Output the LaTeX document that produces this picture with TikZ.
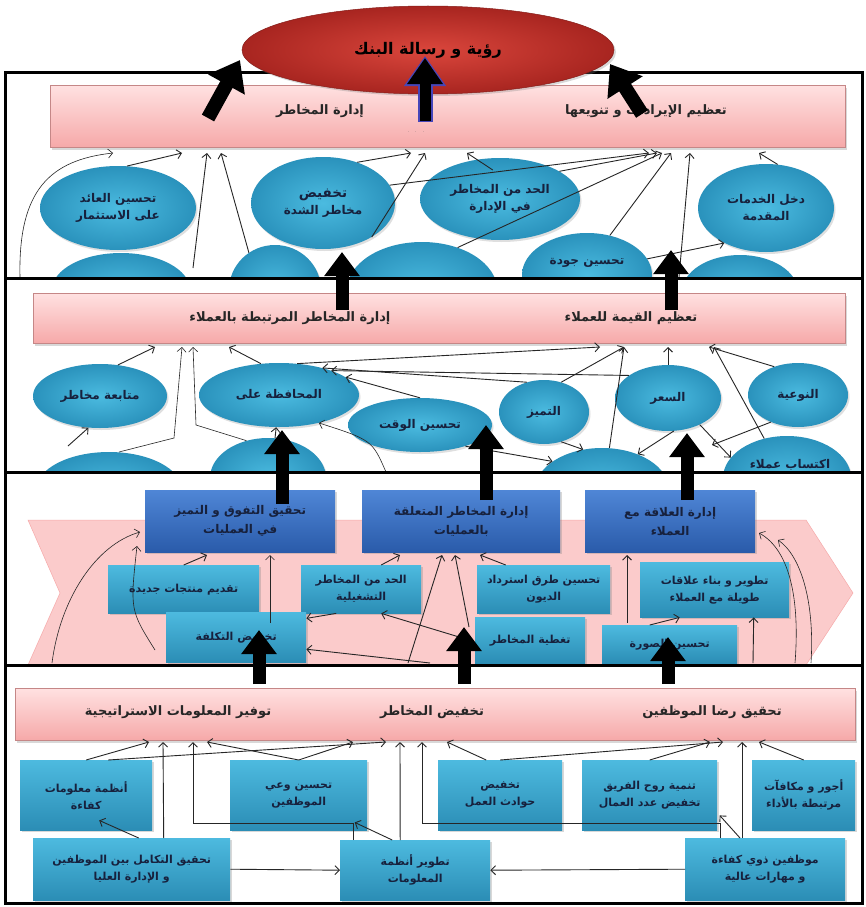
\documentclass[tikz,border=0pt]{standalone}
\usepackage{fontspec}
\newfontfamily\arabicfont[Script=Arabic]{DejaVu Sans}
\TeXXeTstate=1
\usetikzlibrary{arrows.meta,shapes.geometric,shadows}
\definecolor{pinkT}{HTML}{FFE1E1}
\definecolor{pinkB}{HTML}{F6A9A9}
\definecolor{chevpink}{HTML}{FBCBCB}
\definecolor{tealIn}{HTML}{4BBBE0}
\definecolor{tealOut}{HTML}{2A92BC}
\definecolor{boxT}{HTML}{4DBADF}
\definecolor{boxB}{HTML}{2B8DB5}
\definecolor{blueT}{HTML}{4F86D6}
\definecolor{blueB}{HTML}{2A5BAA}
\definecolor{redIn}{HTML}{DA463C}
\definecolor{redOut}{HTML}{A82520}
\definecolor{navy}{HTML}{17213D}
\newcommand\ar[1]{\beginR #1\endR}
\begin{document}
\begin{tikzpicture}[x=1pt,y=-1pt,
 conn/.style={draw=black!85,line width=0.9pt,-{Straight Barb[length=4.5pt,width=9pt]}},
 thinconn/.style={conn,line width=0.6pt},
 bigarrow/.style={line width=13pt,draw=black,-{Triangle[length=24pt,width=34pt]}},
 band/.style={rectangle,inner sep=0pt,anchor=north west,top color=pinkT,bottom color=pinkB,draw=pinkB!80!black,line width=0.3pt,drop shadow={opacity=0.3,shadow xshift=2pt,shadow yshift=-3pt}},
 btxt/.style={font=\arabicfont\bfseries\fontsize{13}{15}\selectfont,text=black!85,inner sep=1pt},
 oval/.style={ellipse,inner sep=0pt,inner color=tealIn,outer color=tealOut,drop shadow={opacity=0.25,shadow xshift=1.5pt,shadow yshift=-2pt},align=center,text=navy,font=\arabicfont\bfseries\fontsize{12}{17}\selectfont},
 otxt/.style={text=navy,font=\arabicfont\bfseries\fontsize{12}{17}\selectfont,inner sep=1pt},
 tbox/.style={rectangle,inner sep=1pt,anchor=north west,top color=boxT,bottom color=boxB,drop shadow={opacity=0.3,shadow xshift=1.5pt,shadow yshift=-2pt},align=center,text=navy,font=\arabicfont\bfseries\fontsize{11}{17}\selectfont},
 bbox/.style={tbox,top color=blueT,bottom color=blueB,font=\arabicfont\bfseries\fontsize{12}{19}\selectfont},
 sz/.style 2 args={minimum width=#1pt,minimum height=#2pt},
 frame/.style={draw=black,line width=3pt}]

\useasboundingbox (0,0) rectangle (866,907);
\fill[white] (0,0) rectangle (866,907);

% ---------- section 3 chevron ----------
\fill[chevpink,draw=pinkB,line width=0.5pt] (28,520) -- (806,520) -- (853,593) -- (806,665) -- (28,665) -- (60,593) -- cycle;

% ---------- section 1 ----------
\node[band,sz={795}{62}] (band1) at (50,85) {};
\node[btxt] (b1t1) at (320,111) {\ar{إدارة المخاطر}};
\node[btxt] (b1t2) at (646,111) {\ar{تعظيم الإيرادات و تنويعها}};
\node[font=\tiny,text=black!70] (b1dots) at (416,132) {. \ . \ .};

\begin{scope}
\clip (5,72) rectangle (862,278);
\node[oval,sz={138}{74}] (p11) at (121,290) {};
\node[oval,sz={92}{90}] (p12) at (275,290) {};
\node[oval,sz={150}{96}] (p13) at (422,290) {};
\node[oval,sz={130}{84}] (e15) at (587,275) {};
\node[oval,sz={116}{74}] (p14) at (740,292) {};
\node[otxt] (e15t) at (587,263) {\ar{تحسين جودة}};
\end{scope}
\node[oval,sz={156}{84}] (e11) at (118,208) {\ar{تحسين العائد}\\\ar{على الاستثمار}};
\node[oval,sz={144}{92}] (e12) at (323,203) {{\fontsize{13.5}{17}\selectfont\ar{تخفيض}}\\\ar{مخاطر الشدة}};
\node[oval,sz={160}{82}] (e13) at (500,199) {\ar{الحد من المخاطر}\\\ar{في الإدارة}};
\node[oval,sz={136}{88}] (e14) at (766,208) {\ar{دخل الخدمات}\\\ar{المقدمة}};

% ---------- section 2 ----------
\node[band,sz={812}{50}] (band2) at (33,293) {};
\node[btxt] (b2t1) at (290,318) {\ar{إدارة المخاطر المرتبطة بالعملاء}};
\node[btxt] (b2t2) at (631,318) {\ar{تعظيم القيمة للعملاء}};
\begin{scope}
\clip (5,278) rectangle (862,472);
\node[oval,sz={146}{76}] (p21) at (109,490) {};
\node[oval,sz={116}{80}] (p22) at (268,478) {};
\node[oval,sz={134}{84}] (p2a) at (602,490) {};
\node[oval,sz={128}{84}] (p27) at (787,478) {};
\node[otxt] (p27t) at (790,465) {\ar{اكتساب عملاء}};
\end{scope}
\node[oval,sz={134}{64}] (e21) at (100,396) {\ar{متابعة مخاطر}};
\node[oval,sz={160}{64}] (e22) at (279,395) {\ar{المحافظة على}};
\node[oval,sz={144}{54}] (e23) at (420,425) {\ar{تحسين الوقت}};
\node[oval,sz={90}{64}] (e24) at (544,412) {\ar{التميز}};
\node[oval,sz={106}{66}] (e25) at (668,398) {\ar{السعر}};
\node[oval,sz={100}{64}] (e26) at (798,395) {\ar{النوعية}};

% ---------- section 3 ----------
\node[bbox,sz={190}{62}] (bb1) at (145,490) {\ar{تحقيق التفوق و التميز}\\\ar{في العمليات}};
\node[bbox,sz={198}{62}] (bb2) at (362,490) {\ar{إدارة المخاطر المتعلقة}\\\ar{بالعمليات}};
\node[bbox,sz={170}{62}] (bb3) at (585,490) {\ar{إدارة العلاقة مع}\\\ar{العملاء}};
\node[tbox,sz={151}{48}] (tb1) at (108,565) {\ar{تقديم منتجات جديدة}};
\node[tbox,sz={120}{48}] (tb2) at (301,565) {\ar{الحد من المخاطر}\\\ar{التشغيلية}};
\node[tbox,sz={133}{48}] (tb3) at (477,565) {\ar{تحسين طرق استرداد}\\\ar{الديون}};
\node[tbox,sz={149}{55}] (tb4) at (640,562) {\ar{تطوير و بناء علاقات}\\\ar{طويلة مع العملاء}};
\node[tbox,sz={140}{50}] (tb5) at (166,612) {\ar{تخفيض التكلفة}};
\node[tbox,sz={110}{46}] (tb6) at (475,617) {\ar{تغطية المخاطر}};
\node[tbox,sz={135}{38}] (tb7) at (602,625) {\ar{تحسين الصورة}};

% ---------- section 4 ----------
\node[band,sz={840}{52}] (band4) at (15,688) {};
\node[btxt] (b4t1) at (178,712) {\ar{توفير المعلومات الاستراتيجية}};
\node[btxt] (b4t2) at (432,712) {\ar{تخفيض المخاطر}};
\node[btxt] (b4t3) at (712,712) {\ar{تحقيق رضا الموظفين}};
\node[tbox,sz={132}{70}] (ra1) at (20,760) {\ar{أنظمة معلومات}\\\ar{كفاءة}};
\node[tbox,sz={137}{70}] (ra2) at (230,760) {\ar{تحسين وعي}\\\ar{الموظفين}};
\node[tbox,sz={124}{70}] (ra3) at (438,760) {\ar{تخفيض}\\\ar{حوادث العمل}};
\node[tbox,sz={135}{70}] (ra4) at (582,760) {\ar{تنمية روح الفريق}\\\ar{تخفيض عدد العمال}};
\node[tbox,sz={103}{70}] (ra5) at (752,760) {\ar{أجور و مكافآت}\\\ar{مرتبطة بالأداء}};
\node[tbox,sz={197}{62}] (rb1) at (33,838) {\ar{تحقيق التكامل بين الموظفين}\\\ar{و الإدارة العليا}};
\node[tbox,sz={150}{60}] (rb2) at (340,840) {\ar{تطوير أنظمة}\\\ar{المعلومات}};
\node[tbox,sz={160}{62}] (rb3) at (685,838) {\ar{موظفين ذوي كفاءة}\\\ar{و مهارات عالية}};

% ---------- coordinates ----------
\coordinate (s1a) at (113,153); \coordinate (s1b) at (182,153); \coordinate (s1c) at (207,153);
\coordinate (s1d) at (221,153); \coordinate (s1e) at (411,153); \coordinate (s1f) at (425,153);
\coordinate (s1g) at (467,153); \coordinate (s1h) at (649,153); \coordinate (s1i) at (657,153);
\coordinate (s1j) at (662,153); \coordinate (s1k) at (671,153); \coordinate (s1l) at (690,153);
\coordinate (s1m) at (759,153);
\coordinate (s1p) at (20,277); \coordinate (s1q) at (193,268); \coordinate (s1r) at (679,277);

\coordinate (s2a) at (155,347); \coordinate (s2b) at (182,347); \coordinate (s2c) at (193,347);
\coordinate (s2d) at (229,347); \coordinate (s2e) at (600,347); \coordinate (s2f) at (624,347);
\coordinate (s2g) at (668,347); \coordinate (s2h) at (709,347); \coordinate (s2i) at (714,347);
\coordinate (s2p) at (119,452); \coordinate (s2q) at (712,445); \coordinate (s2r) at (386,472);
\coordinate (s2s) at (68,446);

\coordinate (s3a) at (140,532); \coordinate (s3b) at (137,546); \coordinate (s3c) at (207,555);
\coordinate (s3d) at (270,555); \coordinate (s3e) at (400,555); \coordinate (s3f) at (442,555);
\coordinate (s3g) at (455,555); \coordinate (s3h) at (480,555); \coordinate (s3i) at (627,555);
\coordinate (s3j) at (759,533); \coordinate (s3k) at (778,540);
\coordinate (s3p) at (52,663); \coordinate (s3q) at (155,650); \coordinate (s3r) at (270,623);
\coordinate (s3s) at (408,663); \coordinate (s3t) at (469,627); \coordinate (s3t2) at (469,640);
\coordinate (s3u) at (430,663); \coordinate (s3v) at (627,623); \coordinate (s3w) at (753,663);
\coordinate (s3x) at (795,663); \coordinate (s3y) at (811,663);

\coordinate (s4a) at (149,742); \coordinate (s4b) at (163,742); \coordinate (s4c) at (193,742);
\coordinate (s4d) at (207,742); \coordinate (s4e) at (353,742); \coordinate (s4f) at (386,742);
\coordinate (s4g) at (400,742); \coordinate (s4h) at (422,742); \coordinate (s4i) at (447,742);
\coordinate (s4j) at (710,742); \coordinate (s4k) at (723,742); \coordinate (s4l) at (742,742);
\coordinate (s4m) at (759,742);

% ---------- connectors section 1 ----------
\draw[thinconn] (s1p) .. controls (18,190) and (50,160) .. (s1a);
\draw[conn] (e11.78) -- (s1b);
\draw[conn] (s1q) -- (s1c);
\draw[conn] (p12.125) -- (s1d);
\draw[conn] (e12.50) -- (s1e);
\draw[conn] (e12.-35) -- (s1f);
\draw[conn] ([yshift=-12pt]e13.100) -- (s1g);
\draw[conn] (e12.15) -- (s1h);
\draw[conn] (e13.25) -- (s1i);
\draw[conn] (p13.50) -- (s1j);
\draw[conn] (e15.60) -- (s1k);
\draw[conn] (s1r) -- (s1l);
\draw[conn] (e15.15) -- (e14.220);
\draw[conn] (e14.75) -- (s1m);

% ---------- connectors section 2 ----------
\draw[conn] (e21.60) -- (s2a);
\draw[thinconn] (s2p) -- (174,438) -- (s2b);
\draw[thinconn] (p22.120) -- (196,425) -- (s2c);
\draw[conn] (e22.120) -- (s2d);
\draw[conn] (e22.60) -- (s2e);
\draw[conn] (e24.60) -- (s2f);
\draw[conn] (p2a.80) -- (s2f);
\draw[conn] (e25.north) -- (s2g);
\draw[conn] (e26.130) -- (s2h);
\draw[conn] (p27.120) -- (s2i);
\draw[conn] (e25.150) -- (e22.25);
\draw[conn] (e24.120) -- (e22.32);
\draw[conn] (e23.north) -- (e22.15);
\draw[conn] (e26.225) -- (s2q);
\draw[conn] (e25.-40) -- (p27.160);
\draw[conn] (e25.-80) -- (p2a.45);
\draw[conn] (e23.-25) -- (p2a.150);
\draw[conn] (e24.-60) -- (p2a.115);
\draw[thinconn] (s2r) .. controls (372,440) .. (e22.-35);
\draw[conn] (p22.80) -- (e22.-95);
\draw[conn] (s2s) -- (e21.-110);

% ---------- connectors section 3 ----------
\draw[thinconn] (s3p) .. controls (60,600) and (95,545) .. (s3a);
\draw[thinconn] (s3q) .. controls (130,610) .. (s3b);
\draw[conn] (tb1.north) -- (s3c);
\draw[thinconn] (s3r) -- (s3d);
\draw[conn] ([xshift=20pt]tb2.north) -- (s3e);
\draw[conn] (s3s) -- (s3f);
\draw[conn] (s3t) -- (s3g);
\draw[conn] (s3t2) -- ([xshift=20pt]tb2.south);
\draw[conn] ([xshift=-25pt]tb2.south) -- (tb5.15);
\draw[conn] (s3u) -- ([yshift=-12pt]tb5.east);
\draw[conn] ([xshift=-38pt]tb3.north) -- (s3h);
\draw[conn] (s3v) -- (s3i);
\draw[conn] ([xshift=-20pt]tb7.north) -- ([xshift=-35pt]tb4.south);
\draw[conn] (s3w) -- ([xshift=39pt]tb4.south);
\draw[thinconn] (s3x) .. controls (800,600) and (790,550) .. (s3j);
\draw[thinconn] (s3y) .. controls (815,600) and (800,555) .. (s3k);

% ---------- connectors section 4 ----------
\draw[conn] (ra1.north) -- (s4a);
\draw[conn] ([xshift=22pt]ra1.north) -- (s4f);
\draw[conn] ([xshift=32pt]rb1.north) -- (s4b);
\draw[conn] ([xshift=13pt]rb2.north west) -- ++(0,-17) -| (s4c);
\draw[conn] (ra2.north) -- (s4d);
\draw[conn] (ra2.north) -- (s4e);
\draw[conn] ([xshift=-23pt]rb2.north) -- ([xshift=56pt,yshift=8pt]ra2.south);
\draw[conn] ([xshift=-15pt]rb2.north) -- (s4g);
\draw[conn] ([xshift=35pt]rb3.north west) -- ++(0,-15) -| (s4h);
\draw[conn] ([xshift=-14pt]ra3.north) -- (s4i);
\draw[conn] (ra3.north) -- (s4k);
\draw[conn] (ra4.north) -- (s4j);
\draw[conn] ([xshift=55pt]rb3.north west) -- ([xshift=70pt,yshift=15pt]ra4.south);
\draw[conn] ([xshift=57pt]rb3.north west) -- (s4l);
\draw[conn] (ra5.north) -- (s4m);
\draw[conn] (rb1.east) -- (rb2.west);
\draw[conn] (rb3.west) -- (rb2.east);
\draw[conn] ([xshift=7pt]rb1.north) -- ([xshift=13pt,yshift=10pt]ra1.south);

% ---------- frames ----------
\draw[frame] (5,72) rectangle (862,278);
\draw[frame] (5,278) rectangle (862,472);
\draw[frame] (5,472) rectangle (862,665);
\draw[frame] (5,665) rectangle (862,903);

% ---------- top ellipse ----------
\node[ellipse,sz={372}{88},inner sep=0pt,inner color=redIn,outer color=redOut,draw=redOut!80!black,line width=0.5pt,
      drop shadow={opacity=0.3,shadow xshift=2pt,shadow yshift=-2pt},
      font=\arabicfont\bfseries\fontsize{16}{19}\selectfont,text=black] (vision) at (428,50) {\ar{رؤية و رسالة البنك}};

% ---------- big arrows ----------
\coordinate (A1s) at (208,118); \coordinate (A1e) at (240,60);
\coordinate (A2s) at (425,122); \coordinate (A2e) at (425,56);
\coordinate (A3s) at (642,114); \coordinate (A3e) at (610,64);
\draw[bigarrow,line width=14pt,-{Triangle[length=28pt,width=40pt]}] (A1s) -- (A1e);
\draw[bigarrow,line width=14pt,-{Triangle[length=28pt,width=40pt]}] (A3s) -- (A3e);
\draw[bigarrow,draw=blue!45!gray,line width=15pt,-{Triangle[length=30pt,width=40pt]}] (A2s) -- (A2e);
\draw[bigarrow,line width=11pt,-{Triangle[length=26pt,width=34pt]}] ([yshift=1pt]A2s) -- ([yshift=-2pt]A2e);

\coordinate (B1s) at (342,310); \coordinate (B1e) at (342,252);
\coordinate (B2s) at (671,310); \coordinate (B2e) at (671,250);
\draw[bigarrow] (B1s) -- (B1e);
\draw[bigarrow] (B2s) -- (B2e);

\coordinate (C1s) at (282,504); \coordinate (C1e) at (282,430);
\coordinate (C2s) at (486,500); \coordinate (C2e) at (486,425);
\coordinate (C3s) at (687,500); \coordinate (C3e) at (687,433);
\draw[bigarrow] (C1s) -- (C1e);
\draw[bigarrow] (C2s) -- (C2e);
\draw[bigarrow] (C3s) -- (C3e);

\coordinate (D1s) at (259,684); \coordinate (D1e) at (259,630);
\coordinate (D2s) at (464,684); \coordinate (D2e) at (464,627);
\coordinate (D3s) at (668,684); \coordinate (D3e) at (668,637);
\draw[bigarrow] (D1s) -- (D1e);
\draw[bigarrow] (D2s) -- (D2e);
\draw[bigarrow] (D3s) -- (D3e);
\end{tikzpicture}
\end{document}
